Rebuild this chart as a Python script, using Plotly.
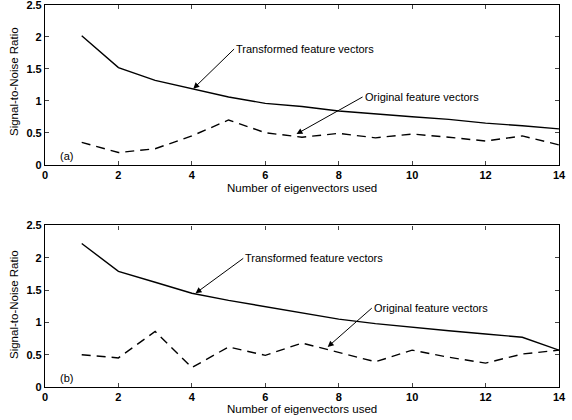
import plotly.graph_objects as go

x_vals = list(range(1, 15))
a_transformed = [2.02, 1.52, 1.32, 1.19, 1.06, 0.96, 0.91, 0.84, 0.79, 0.75, 0.71, 0.65, 0.61, 0.56]
a_original = [0.35, 0.19, 0.25, 0.45, 0.70, 0.50, 0.43, 0.49, 0.42, 0.48, 0.43, 0.37, 0.45, 0.31]
b_transformed = [2.22, 1.79, 1.62, 1.45, 1.34, 1.24, 1.14, 1.05, 0.98, 0.92, 0.87, 0.82, 0.77, 0.57]
b_original = [0.50, 0.45, 0.86, 0.30, 0.62, 0.49, 0.68, 0.54, 0.39, 0.57, 0.46, 0.37, 0.51, 0.57]

x_ticks = [0, 2, 4, 6, 8, 10, 12, 14]
y_ticks = [0, 0.5, 1, 1.5, 2, 2.5]
y_tick_text = ["0", "0.5", "1", "1.5", "2", "2.5"]

FONT = "Liberation Sans"
fig = go.Figure()

line_solid = dict(color="black", width=1.4)
line_dash = dict(color="black", width=1.4, dash="9px,6px")

fig.add_trace(go.Scatter(x=x_vals, y=a_transformed, mode="lines", line=line_solid, xaxis="x", yaxis="y", showlegend=False))
fig.add_trace(go.Scatter(x=x_vals, y=a_original, mode="lines", line=line_dash, xaxis="x", yaxis="y", showlegend=False))
fig.add_trace(go.Scatter(x=x_vals, y=b_transformed, mode="lines", line=line_solid, xaxis="x2", yaxis="y2", showlegend=False))
fig.add_trace(go.Scatter(x=x_vals, y=b_original, mode="lines", line=line_dash, xaxis="x2", yaxis="y2", showlegend=False))

tickfont = dict(family=FONT, size=11, color="black", weight="bold")
xax = dict(range=[0, 14], tickvals=x_ticks, ticks="inside", ticklen=4, tickwidth=1,
           showline=True, linecolor="black", linewidth=1.2, mirror="ticks", showgrid=False,
           zeroline=False, tickfont=tickfont, fixedrange=True, automargin=False)
yax = dict(range=[0, 2.5], tickvals=y_ticks, ticktext=y_tick_text, ticks="inside", ticklen=4, tickwidth=1,
           showline=True, linecolor="black", linewidth=1.2, mirror="ticks", showgrid=False,
           zeroline=False, tickfont=tickfont, fixedrange=True, automargin=False,
           ticklabeloverflow="allow")

fig.update_layout(
    width=572, height=420,
    margin=dict(l=45, r=13, t=5, b=33),
    paper_bgcolor="white", plot_bgcolor="white",
    xaxis=dict(xax, domain=[0, 1], anchor="y"),
    yaxis=dict(yax, domain=[0.582, 1], anchor="x"),
    xaxis2=dict(xax, domain=[0, 1], anchor="y2"),
    yaxis2=dict(yax, domain=[0, 0.423], anchor="x2"),
)

afont = dict(family=FONT, size=11, color="black")
tfont = dict(family=FONT, size=11.5, color="black")
ann = []
# axis titles
for yy in [188, 409]:
    ann.append(dict(text="Number of eigenvectors used", xref="paper", yref="paper", x=0.5,
                    y=(420 - 33 - yy) / 382, showarrow=False, font=tfont, xanchor="center", yanchor="middle"))
for yy in [82, 305]:
    ann.append(dict(text="Signal-to-Noise Ratio", xref="paper", yref="paper", x=(14 - 45) / 514,
                    y=(420 - 33 - yy) / 382, showarrow=False, font=tfont, textangle=-90,
                    xanchor="center", yanchor="middle"))
# panel labels
ann.append(dict(text="(a)", xref="x", yref="y", x=0.35, y=0.14, showarrow=False, font=afont, xanchor="left"))
ann.append(dict(text="(b)", xref="x2", yref="y2", x=0.35, y=0.14, showarrow=False, font=afont, xanchor="left"))

# arrows with labels
def arrow(text, xr, yr, hx, hy, tx, ty):
    ann.append(dict(text=text, xref=xr, yref=yr, x=hx, y=hy, ax=tx, ay=ty, axref=xr, ayref=yr,
                    showarrow=True, arrowhead=2, arrowsize=1.2, arrowwidth=1, arrowcolor="black",
                    standoff=0, font=afont, xanchor="left", yanchor="middle"))

arrow("Transformed feature vectors", "x", "y", 4.04, 1.19, 5.15, 1.81)
arrow("Original feature vectors", "x", "y", 6.85, 0.48, 8.65, 1.06)
arrow("Transformed feature vectors", "x2", "y2", 4.1, 1.45, 5.4, 1.99)
arrow("Original feature vectors", "x2", "y2", 7.7, 0.62, 8.9, 1.22)

fig.update_layout(annotations=ann)
fig.write_html("out.html")
